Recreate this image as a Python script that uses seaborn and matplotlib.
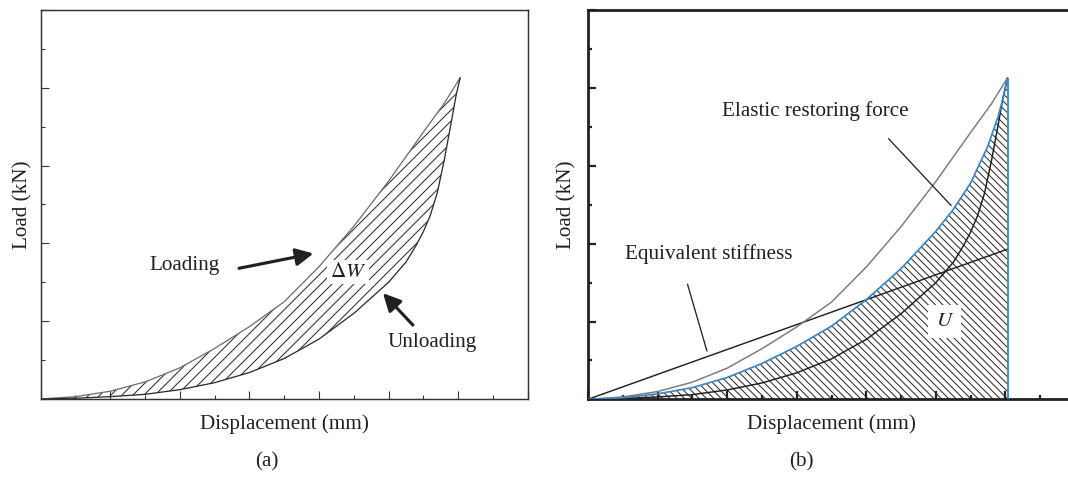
import numpy as np
import matplotlib
matplotlib.use("Agg")
import matplotlib.pyplot as plt
import seaborn as sns
from matplotlib.ticker import MultipleLocator

# Load-displacement readings (displacement in mm, load in kN)
loading_disp = [0, 0.5, 1.0, 1.5, 2.0, 2.5, 3.0, 3.5, 4.0, 4.5, 5.0, 5.5, 5.8, 6.03]
loading_load = [0, 0.03, 0.10, 0.22, 0.40, 0.65, 0.93, 1.25, 1.70, 2.22, 2.80, 3.43, 3.80, 4.13]

unloading_disp = [0, 0.5, 1.0, 1.5, 2.0, 2.5, 3.0, 3.5, 4.0, 4.5, 5.0, 5.25, 5.4, 5.5,
                  5.6, 5.7, 5.8, 5.9, 5.97, 6.03]
unloading_load = [0, 0.01, 0.03, 0.06, 0.12, 0.21, 0.34, 0.52, 0.77, 1.10, 1.50, 1.76, 1.98, 2.15,
                  2.36, 2.65, 3.07, 3.55, 3.90, 4.13]

elastic_disp = [0, 0.5, 1.0, 1.5, 2.0, 2.5, 3.0, 3.5, 4.0, 4.5, 5.0, 5.25, 5.5, 5.75, 5.9,
                5.98, 6.03]
elastic_load = [0, 0.02, 0.07, 0.15, 0.28, 0.46, 0.68, 0.94, 1.28, 1.68, 2.16, 2.44, 2.78,
                3.26, 3.65, 3.92, 4.13]

stiffness_disp = [0, 6.03]
stiffness_load = [0, 1.93]

DPI = 132
W, H = 1068, 477

sns.set_style("white")
plt.rcParams["font.family"] = ["Liberation Serif", "DejaVu Serif"]
plt.rcParams["mathtext.fontset"] = "stix"
plt.rcParams["hatch.linewidth"] = 0.55
plt.rcParams["text.color"] = "#231f20"
plt.rcParams["axes.labelcolor"] = "#231f20"

FS = 11.5
INK = "#231f20"

fig = plt.figure(figsize=(W / DPI, H / DPI), dpi=DPI, facecolor="white")

ax_w = 487 / W
ax_h = 389 / H
ax_a = fig.add_axes([40.7 / W, 78 / H, ax_w, ax_h])
ax_b = fig.add_axes([588 / W, 77.7 / H, ax_w, ax_h])


def style_axes(ax, spine_lw, spine_color, tick_w, ylabel_x):
    ax.set_xlim(0, 7)
    ax.set_ylim(0, 5)
    ax.xaxis.set_major_locator(MultipleLocator(1))
    ax.xaxis.set_minor_locator(MultipleLocator(0.5))
    ax.yaxis.set_major_locator(MultipleLocator(1))
    ax.yaxis.set_minor_locator(MultipleLocator(0.5))
    ax.tick_params(which="both", direction="in", bottom=True, left=True, top=False,
                   right=False, labelbottom=False, labelleft=False,
                   width=tick_w, color=spine_color)
    ax.tick_params(which="major", length=4.4)
    ax.tick_params(which="minor", length=2.2)
    for s in ax.spines.values():
        s.set_linewidth(spine_lw)
        s.set_color(spine_color)
        s.set_visible(True)
    ax.set_xlabel("Displacement (mm)", fontsize=FS)
    ax.set_ylabel("Load (kN)", fontsize=FS)
    ax.xaxis.label.set_va("center")
    ax.yaxis.label.set_va("center")
    ax.xaxis.set_label_coords(0.5, -25 / 389)
    ax.yaxis.set_label_coords(ylabel_x, 0.5)
    ax.set_facecolor("white")


# ---- (a) hysteresis loop ----
style_axes(ax_a, 0.8, "#333333", 0.6, -0.037)
loop_x = np.r_[loading_disp, unloading_disp[::-1]]
loop_y = np.r_[loading_load, unloading_load[::-1]]
ax_a.fill(loop_x, loop_y, facecolor="none", edgecolor="#2a2a2a", hatch="////", lw=0, zorder=1)
sns.lineplot(x=loading_disp, y=loading_load, ax=ax_a, color="#6e6e6e", lw=0.7,
             sort=False, estimator=None, zorder=3)
sns.lineplot(x=unloading_disp, y=unloading_load, ax=ax_a, color="#2b2b2b", lw=0.7,
             sort=False, estimator=None, zorder=3)
arrow_kw = dict(arrowstyle="-|>", lw=1.7, color=INK, mutation_scale=20, shrinkA=0, shrinkB=0)
ax_a.annotate("", xy=(3.92, 1.87), xytext=(2.85, 1.68), arrowprops=arrow_kw, zorder=5)
ax_a.annotate("", xy=(4.92, 1.36), xytext=(5.35, 0.95), arrowprops=arrow_kw, zorder=5)
ax_a.text(2.07, 1.72, "Loading", fontsize=FS, ha="center", va="center")
ax_a.text(5.62, 0.72, "Unloading", fontsize=FS, ha="center", va="center")
ax_a.text(4.42, 1.63, r"$\Delta W$", fontsize=FS, ha="center", va="center", zorder=6,
          bbox=dict(facecolor="white", edgecolor="none", pad=1.5))

# ---- (b) elastic restoring force and equivalent stiffness ----
style_axes(ax_b, 1.5, INK, 1.2, -0.044)
ax_b.fill_between(elastic_disp, elastic_load, 0, facecolor="none", edgecolor="#2a2a2a",
                  hatch="\\" * 6, lw=0, zorder=1)
sns.lineplot(x=stiffness_disp, y=stiffness_load, ax=ax_b, color="#222222", lw=0.8,
             sort=False, estimator=None, zorder=3)
sns.lineplot(x=loading_disp, y=loading_load, ax=ax_b, color="#7a7a7a", lw=0.8,
             sort=False, estimator=None, zorder=3)
sns.lineplot(x=unloading_disp, y=unloading_load, ax=ax_b, color="#1e1e1e", lw=0.8,
             sort=False, estimator=None, zorder=3)
sns.lineplot(x=elastic_disp, y=elastic_load, ax=ax_b, color="#3a87c8", lw=0.95,
             sort=False, estimator=None, zorder=4)
ax_b.vlines(elastic_disp[-1], 0, elastic_load[-1], color="#3a87c8", lw=1.0, zorder=4)
ax_b.plot([4.32, 5.22], [3.35, 2.49], color=INK, lw=0.7, zorder=5)
ax_b.plot([1.43, 1.71], [1.48, 0.62], color=INK, lw=0.7, zorder=5)
ax_b.text(3.27, 3.71, "Elastic restoring force", fontsize=FS, ha="center", va="center")
ax_b.text(1.74, 1.87, "Equivalent stiffness", fontsize=FS, ha="center", va="center")
ax_b.text(5.13, 1.0, r"$U$", fontsize=FS, ha="center", va="center", zorder=6,
          bbox=dict(facecolor="white", edgecolor="none", pad=4))

fig.text(267 / W, 1 - 462 / H, "(a)", fontsize=FS, ha="center", va="center")
fig.text(801 / W, 1 - 462 / H, "(b)", fontsize=FS, ha="center", va="center")

fig.savefig("out.png", dpi=DPI, facecolor="white")
